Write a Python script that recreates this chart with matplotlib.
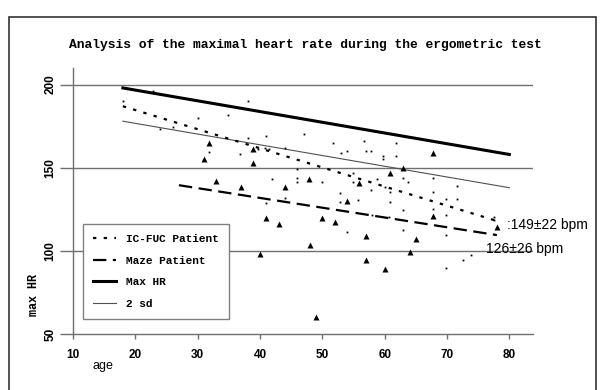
import matplotlib
matplotlib.use('Agg')
import matplotlib.pyplot as plt
from matplotlib.lines import Line2D
from matplotlib.patches import Rectangle

plt.rcParams['lines.scale_dashes'] = False

# IC-FUC patients (dots)
ic_age = [18, 22.8, 24, 26, 30, 31.8, 34.9, 36.8, 38, 38, 39.7, 40.8, 41, 41.5, 42, 44, 44, 41,
          46, 46, 46, 47, 50, 51.7, 52.9, 52.9, 53, 54, 54, 55, 55, 55.8, 56.7, 57, 57.8, 57.8,
          58, 58.8, 59.8, 59.8, 60, 60.9, 60.9, 60.7, 61.8, 61.8, 63, 63.7, 63, 63, 67.8, 67.8,
          67.8, 69.9, 69.9, 69.9, 69.9, 71.6, 71.6, 72.6, 73.9, 77.6, 77.6]
ic_hr = [190, 196, 173.5, 174.5, 180, 159.5, 182, 158.5, 190, 168, 161.5, 162, 169, 161, 143.5, 162, 132, 129,
         149, 144, 141.5, 170.5, 141.5, 165, 135, 129.5, 159, 160, 111.5, 147, 141.5, 130.5, 166, 160, 160, 136.5,
         121.5, 143, 157, 155, 138.5, 135.5, 129.5, 120.5, 165, 157, 144, 141.5, 124.7, 112.5, 144, 135.5,
         125, 131, 121.7, 109.6, 89.8, 139, 131, 94.6, 97.6, 118.5, 120.5]

# Maze patients (triangles)
maze_age = [31.8, 31, 33, 37, 38.9, 38.9, 44, 41, 43, 40, 47.9, 55.9, 54, 50, 52, 57, 48, 57, 60,
            49, 60.9, 63, 67.8, 67.8, 65, 64, 78]
maze_hr = [165, 155, 142, 138.6, 153, 161, 138.6, 120, 116, 98, 143, 141, 130, 120, 117.5, 109, 103.6, 94.6, 89,
           60, 147, 150, 159, 121, 107, 99.5, 114.5]

# regression / reference lines
ic_fit_age, ic_fit_hr = [18, 78], [187, 118]
maze_fit_age, maze_fit_hr = [27, 78], [139.5, 109.5]
maxhr_age, maxhr_hr = [18, 80], [198, 158]
sd_age, sd_hr = [18, 80], [178, 138]

x_ticks = [10, 20, 30, 40, 50, 60, 70, 80]
y_ticks = [50, 100, 150, 200]

W, H = 603, 390
fig = plt.figure(figsize=(W / 100, H / 100), dpi=100)
ax = fig.add_axes([73 / W, 56 / H, 460 / W, 266 / H])

mono = 'Liberation Mono'
sans = 'Liberation Sans'
grid_c = '#707070'

for y in [100, 150, 200]:
    ax.axhline(y, color=grid_c, lw=1, zorder=1)

ic_style = dict(color='black', lw=1.6, linestyle=(0, (2.4, 5.3)))
maze_style = dict(color='black', lw=1.6, linestyle=(0, (9.6, 4.7)))
max_style = dict(color='black', lw=2.2, linestyle='-')
sd_style = dict(color='#505050', lw=0.8, linestyle='-')

ax.plot(sd_age, sd_hr, zorder=2, **sd_style)
ax.plot(maxhr_age, maxhr_hr, zorder=2, **max_style)
ax.plot(ic_fit_age, ic_fit_hr, zorder=2, **ic_style)
ax.plot(maze_fit_age, maze_fit_hr, zorder=2, **maze_style)

ax.plot(ic_age, ic_hr, ls='none', marker='s', ms=1.3, mec='none', mfc='black', zorder=3)
ax.plot(maze_age, maze_hr, ls='none', marker='^', ms=4, mec='none', mfc='black', zorder=3)

ax.set_xlim(10, 83.8)
ax.set_ylim(50, 210)
for s in ['top', 'right']:
    ax.spines[s].set_visible(False)
for s in ['left', 'bottom']:
    ax.spines[s].set_color(grid_c)
    ax.spines[s].set_linewidth(1)

ax.set_xticks(x_ticks)
ax.set_yticks(y_ticks)
ax.tick_params(axis='x', direction='out', length=3.6, width=1, color=grid_c, pad=7)
ax.tick_params(axis='y', direction='out', length=9.4, width=1, color=grid_c, pad=2.5)
for lab in ax.get_xticklabels():
    lab.set_fontfamily(sans)
    lab.set_fontweight('bold')
    lab.set_fontsize(8.5)
for lab in ax.get_yticklabels():
    lab.set_fontfamily(sans)
    lab.set_fontweight('bold')
    lab.set_fontsize(8.5)
    lab.set_rotation(90)
    lab.set_verticalalignment('center')

ax.text(79.7, 115.7, ':149\u00b122 bpm', fontsize=10, family=sans, va='center', ha='left', clip_on=False)
ax.text(76.3, 101.2, '126\u00b126 bpm', fontsize=10, family=sans, va='center', ha='left', clip_on=False)

handles = [Line2D([], [], **ic_style), Line2D([], [], **maze_style),
           Line2D([], [], **max_style), Line2D([], [], **sd_style)]
labels = ['IC-FUC Patient', 'Maze Patient', 'Max HR', '2 sd']
leg = ax.legend(handles, labels, loc='lower left', bbox_to_anchor=(0.0217, 0.0564),
                borderaxespad=0, fancybox=False, framealpha=1, edgecolor='#808080',
                prop=dict(family=mono, weight='bold', size=8), handlelength=2.1,
                handletextpad=0.9, borderpad=0.9, labelspacing=1.05)
leg.get_frame().set_linewidth(1)
leg.set_zorder(5)

fig.text(305 / W, 1 - 45 / H, 'Analysis of the maximal heart rate during the ergometric test',
         ha='center', va='center', family=mono, weight='bold', fontsize=9.4)
fig.text(34 / W, 1 - 295 / H, 'max HR', rotation=90, ha='center', va='center',
         family=mono, weight='bold', fontsize=8.5)
fig.text(103 / W, 1 - 366 / H, 'age', ha='center', va='center', family=sans, fontsize=9)

fig.patches.append(Rectangle((9 / W, -0.05), 587 / W, 1 - 17 / H + 0.05, transform=fig.transFigure,
                             fill=False, edgecolor='#333333', lw=1.2))

fig.savefig('out.png', dpi=100)
